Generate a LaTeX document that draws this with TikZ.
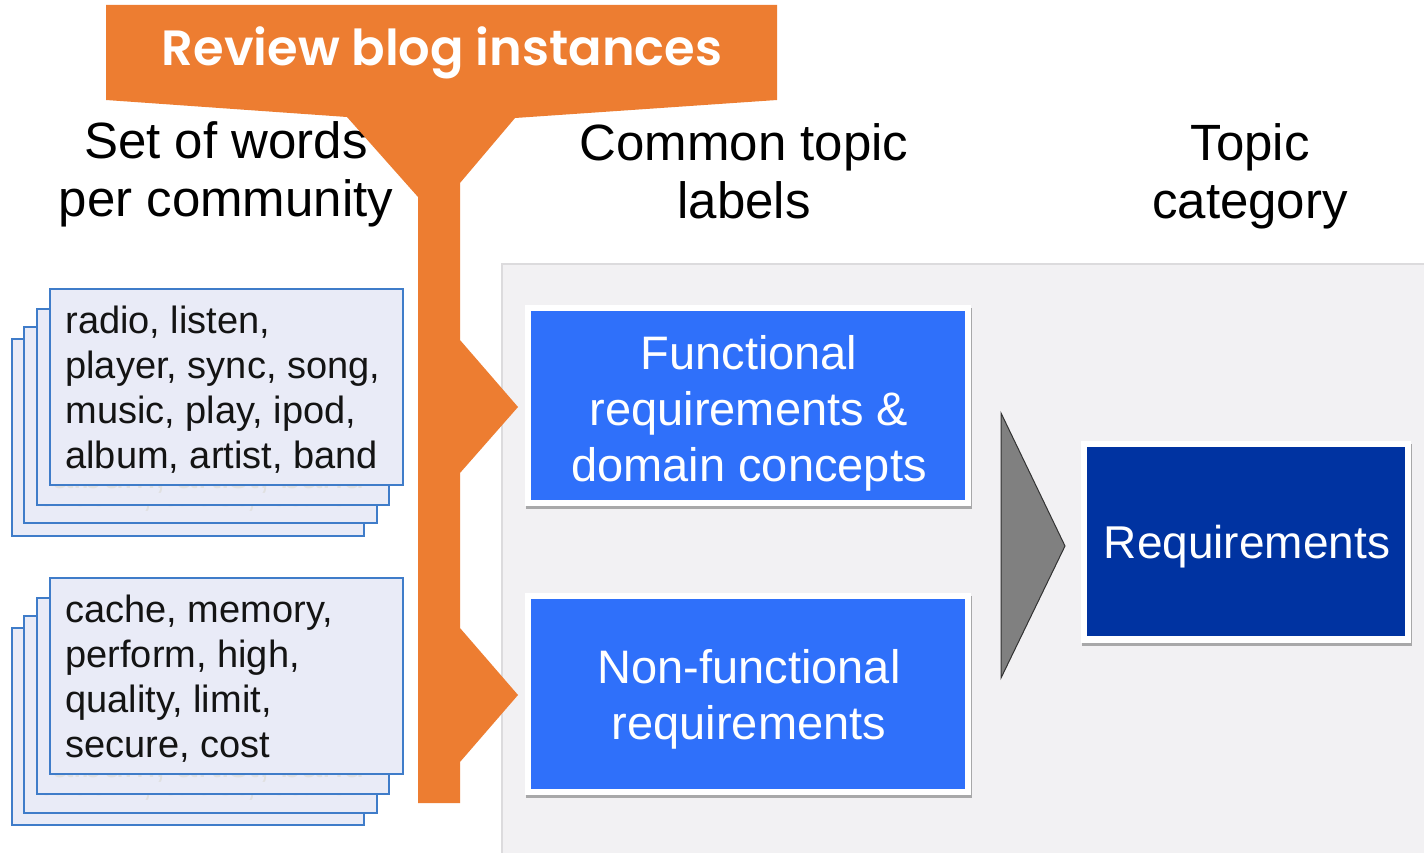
\documentclass[tikz,border=0pt]{standalone}
\usepackage{fontspec}
\setmainfont{Liberation Sans}
\newfontfamily\bannerfont{Poppins SemiBold}
\usetikzlibrary{shadows}

\definecolor{bannerorange}{HTML}{ED7D31}
\definecolor{cardfill}{HTML}{E9EBF7}
\definecolor{cardline}{HTML}{3F7CC9}
\definecolor{topicblue}{HTML}{2F70FA}
\definecolor{catnavy}{HTML}{0033A1}
\definecolor{panelgray}{HTML}{F2F1F3}
\definecolor{paneledge}{HTML}{DCDBDD}
\definecolor{wedgegray}{HTML}{808080}

\tikzset{
  card/.style={draw=cardline, line width=1.6pt, fill=cardfill, inner sep=0pt},
  cardtext/.style={anchor=north west, inner sep=0pt, align=left, text=black!92,
    font=\fontsize{38}{45}\selectfont},
  ghosttext/.style={cardtext, text=black!12},
  header/.style={anchor=north, inner sep=0pt, align=center, text=black,
    font=\fontsize{51}{58}\selectfont},
  frame/.style={fill=white, inner sep=0pt,
    drop shadow={shadow xshift=1pt, shadow yshift=-3pt, opacity=.3, fill=black}},
  topicbox/.style={fill=topicblue, inner sep=0pt},
  catbox/.style={fill=catnavy, inner sep=0pt},
  boxtext/.style={inner sep=0pt, align=center, text=white,
    font=\fontsize{47}{56}\selectfont},
  wedge/.style={fill=wedgegray, draw=black!80, line width=1pt, line join=miter},
}

\newcommand{\musicwords}{radio, listen,\\ player, sync, song,\\ music, play, ipod,\\ album, artist, band}

\begin{document}
\begin{tikzpicture}[x=1pt, y=-1pt]
\useasboundingbox (0,0) rectangle (1424,853);
\fill[white] (0,0) rectangle (1424,853);

% grey panel holding the labels and the category
\fill[panelgray] (502,264) rectangle (1424,853);
\draw[paneledge, line width=1.5pt] (502,853) -- (502,264) -- (1424,264);

% column headings
\node[header] (hwords) at (226,121.5) {Set of words\\per community};
\node[header] (hlabels) at (744,123) {Common topic\\labels};
\node[header] (hcat) at (1250,123.5) {Topic\\category};

% first stack of word cards, drawn back to front; each card carries
% the same words, so the back ones peek out faintly below the next
\node[card, minimum width=352pt, minimum height=197pt] (a4) at (188,437.5) {};
\node[ghosttext] (a4t) at ([xshift=16pt, yshift=-18pt]a4.north west) {\musicwords};
\node[card, minimum width=353pt, minimum height=196pt] (a3) at (200.5,425) {};
\node[ghosttext] (a3t) at ([xshift=16pt, yshift=-18pt]a3.north west) {\musicwords};
\node[card, minimum width=352pt, minimum height=196pt] (a2) at (213,407) {};
\node[ghosttext] (a2t) at ([xshift=16pt, yshift=-18pt]a2.north west) {\musicwords};
\node[card, minimum width=353pt, minimum height=196pt] (a1) at (226.5,387) {};
\node[cardtext] (a1t) at ([xshift=16pt, yshift=-18pt]a1.north west) {\musicwords};

% second stack of word cards, drawn back to front
\node[card, minimum width=352pt, minimum height=197pt] (b4) at (188,726.5) {};
\node[ghosttext] (b4t) at ([xshift=16pt, yshift=-18pt]b4.north west) {\musicwords};
\node[card, minimum width=353pt, minimum height=197pt] (b3) at (200.5,714.5) {};
\node[ghosttext] (b3t) at ([xshift=16pt, yshift=-18pt]b3.north west) {\musicwords};
\node[card, minimum width=352pt, minimum height=196pt] (b2) at (213,696) {};
\node[ghosttext] (b2t) at ([xshift=16pt, yshift=-18pt]b2.north west) {\musicwords};
\node[card, minimum width=353pt, minimum height=196pt] (b1) at (226.5,676) {};
\node[cardtext] (b1t) at ([xshift=16pt, yshift=-18pt]b1.north west)
  {cache, memory,\\ perform, high,\\ quality, limit,\\ secure, cost};

% orange banner with its stem and two arrow heads
\fill[bannerorange] (106,5) -- (777,5) -- (777,100) -- (515,118) -- (460,183)
  -- (460,340) -- (518,407) -- (460,473)
  -- (460,628) -- (518,695) -- (460,762)
  -- (460,803) -- (418,803) -- (418,197) -- (347,117) -- (106,100) -- cycle;
\node[anchor=base, inner sep=0pt, text=white, font=\bannerfont\fontsize{49.5}{56}\selectfont]
  (banner) at (442,66) {Review blog instances};

% topic label boxes
\node[frame, minimum width=446pt, minimum height=201pt] (f1) at (748,405.5) {};
\node[topicbox, minimum width=434pt, minimum height=189pt] (t1) at (748,405.5) {};
\node[boxtext, anchor=north] (t1t) at (749,335) {Functional\\requirements \&\\domain concepts};

\node[frame, minimum width=446pt, minimum height=202pt] (f2) at (748,694) {};
\node[topicbox, minimum width=434pt, minimum height=190pt] (t2) at (748,694) {};
\node[boxtext, anchor=north] (t2t) at (749,649) {Non-functional\\requirements};

% grey wedge pointing at the category
\coordinate (w1) at (1001,413);
\coordinate (w2) at (1065,546);
\coordinate (w3) at (1001,678);
\draw[wedge] (w1) -- (w2) -- (w3) -- cycle;

% category box
\node[frame, minimum width=330pt, minimum height=202pt] (fc) at (1246,542) {};
\node[catbox, minimum width=318pt, minimum height=189pt] (cat) at (1246,541.5) {};
\node[boxtext, anchor=base, font=\fontsize{46}{56}\selectfont] (catt) at (1247,558) {Requirements};
\end{tikzpicture}
\end{document}
